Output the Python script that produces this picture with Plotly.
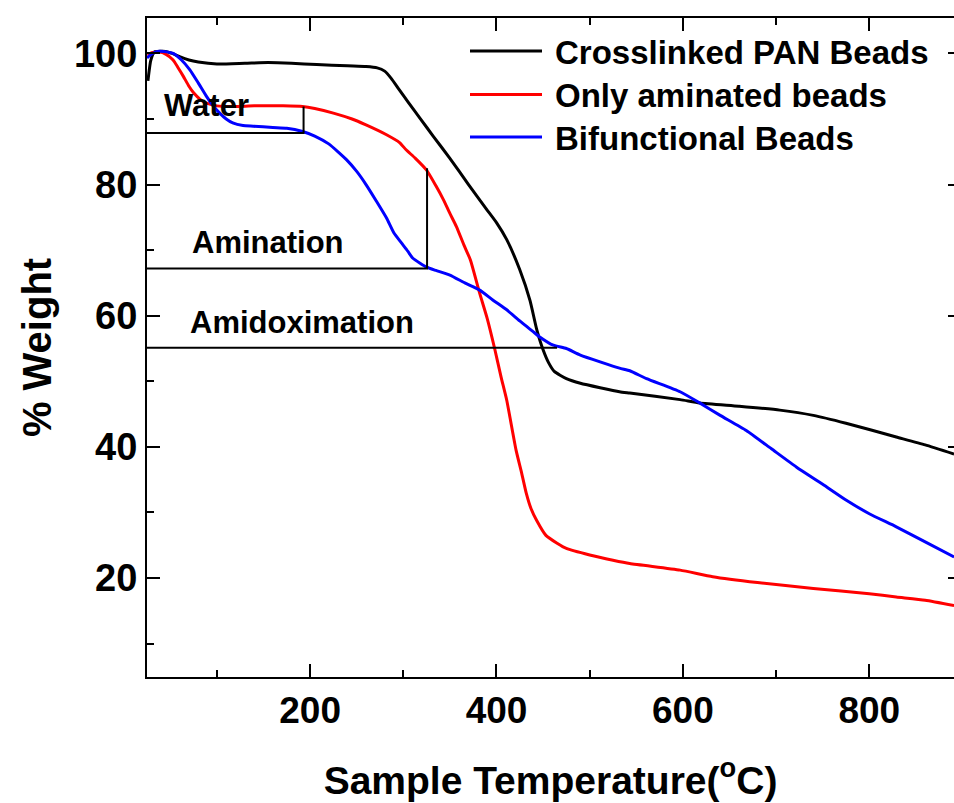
import plotly.graph_objects as go

# ---------------- data ----------------
pan_temp = [26, 29, 33, 45, 52, 60, 70, 80, 100, 130, 155, 180, 207, 240, 260, 272, 280, 287,
            295, 305, 318, 332, 350, 370, 389, 400, 411, 425, 436, 443, 450, 456, 462, 475, 490,
            532, 543, 597, 618, 660, 704, 740, 775, 829, 860, 891]
pan_weight = [95.8, 98.9, 100.2, 100.3, 100.0, 99.5, 99.0, 98.7, 98.4, 98.5, 98.6, 98.5, 98.3,
              98.1, 98.0, 97.8, 97.3, 96.2, 94.6, 92.6, 90.1, 87.4, 84.0, 80.0, 76.3, 74.2,
              71.6, 67.0, 62.3, 58.0, 54.8, 52.8, 51.5, 50.4, 49.7, 48.4, 48.2, 47.2, 46.7,
              46.2, 45.6, 44.8, 43.6, 41.5, 40.3, 38.9]

amin_temp = [26, 30, 38, 45, 53, 58, 64, 70, 75, 82, 89, 100, 117, 140, 171, 192, 205, 225,
             245, 260, 282, 296, 303, 313, 325, 335, 343, 350, 357, 365, 372, 382, 390, 398,
             405, 411, 421, 427, 432, 437, 443, 453, 465, 475, 500, 525, 543, 597, 632, 680,
             740, 800, 829, 860, 891]
amin_weight = [99.6, 100.1, 100.2, 99.9, 99.0, 97.9, 96.5, 95.0, 94.0, 93.0, 92.4, 92.0, 91.9,
               92.0, 92.0, 91.9, 91.6, 90.9, 90.0, 89.1, 87.6, 86.4, 85.3, 84.0, 82.2, 79.8,
               77.7, 75.6, 73.6, 70.8, 68.5, 63.4, 59.6, 55.0, 50.6, 47.1, 39.5, 36.0, 32.9,
               30.6, 28.8, 26.5, 25.3, 24.5, 23.5, 22.7, 22.2, 21.2, 20.2, 19.3, 18.4, 17.6,
               17.1, 16.6, 15.8]

bif_temp = [25, 30, 36, 43, 53, 62, 71, 80, 89, 96, 103, 110, 117, 128, 139, 160, 175, 192,
            205, 220, 239, 250, 260, 271, 282, 290, 298, 305, 310, 318, 325, 335, 350, 366,
            382, 396, 411, 425, 439, 446, 461, 475, 490, 532, 543, 561, 597, 618, 640, 668,
            695, 722, 750, 775, 800, 829, 860, 891]
bif_weight = [99.3, 99.9, 100.3, 100.3, 100.0, 99.0, 97.5, 95.5, 93.4, 92.0, 90.9, 90.0, 89.4,
              89.0, 88.9, 88.7, 88.6, 88.1, 87.4, 86.2, 83.8, 82.0, 80.0, 77.5, 74.9, 72.6,
              71.1, 69.8, 68.8, 68.0, 67.4, 66.9, 66.2, 65.0, 63.9, 62.4, 60.9, 59.2, 57.6,
              56.8, 55.5, 55.0, 54.0, 52.0, 51.6, 50.4, 48.4, 46.7, 44.8, 42.5, 39.7, 36.9,
              34.3, 31.9, 29.8, 27.8, 25.5, 23.2]

series_names = ["Crosslinked PAN Beads", "Only aminated beads", "Bifunctional Beads"]
series_colors = ["#000000", "#ff0000", "#0000ff"]

# step markers: level line from the axis to the step temperature, then a riser
step_labels = ["Water", "Amination", "Amidoximation"]
step_level = [87.85, 67.2, 55.1]
step_temp = [193, 325.5, 465]
step_top = [91.9, 82.5, None]
step_label_x = [41.5, 70.8, 69.0]
step_label_y = [92.0, 71.2, 58.9]

x_range = [25, 890.9]
y_range = [4.9, 105.4]
x_ticks = [200, 400, 600, 800]
y_ticks = [20, 40, 60, 80, 100]

FONT = "Liberation Sans, Arial, sans-serif"

fig = go.Figure()

for t, w, name, col in zip([pan_temp, amin_temp, bif_temp],
                           [pan_weight, amin_weight, bif_weight],
                           series_names, series_colors):
    fig.add_trace(go.Scatter(x=t, y=w, mode="lines", name=name,
                             line=dict(color=col, width=3, shape="spline", smoothing=0.5),
                             showlegend=False))

# step marker lines
for lvl, tx, top in zip(step_level, step_temp, step_top):
    xs = [x_range[0], tx]
    ys = [lvl, lvl]
    if top is not None:
        xs.append(tx)
        ys.append(top)
    fig.add_trace(go.Scatter(x=xs, y=ys, mode="lines", line=dict(color="black", width=2),
                             showlegend=False, hoverinfo="skip"))

# empty trace for the right-hand tick axis
fig.add_trace(go.Scatter(x=[], y=[], yaxis="y2", showlegend=False))

annotations = []
for lab, lx, ly in zip(step_labels, step_label_x, step_label_y):
    annotations.append(dict(x=lx, y=ly, xref="x", yref="y", text=lab, showarrow=False,
                            xanchor="left", yanchor="middle",
                            font=dict(family=FONT, size=31, color="black", weight="bold")))

# manual legend (paper coordinates)
L, R, T, B = 147, 954, 18, 677
def px(xp):
    return (xp - L) / (R - L)
def py(yp):
    return (B - yp) / (B - T)

legend_rows = [51, 94.5, 137]
shapes = []
for name, col, row in zip(series_names, series_colors, legend_rows):
    shapes.append(dict(type="line", xref="paper", yref="paper", x0=px(470), x1=px(542),
                       y0=py(row), y1=py(row), line=dict(color=col, width=3)))
    annotations.append(dict(x=px(553), y=py(row + 1), xref="paper", yref="paper", text=name,
                            showarrow=False, xanchor="left", yanchor="middle",
                            font=dict(family=FONT, size=33, color="black", weight="bold")))

fig.update_layout(
    width=954, height=803,
    margin=dict(l=L, r=954 - R, t=T, b=803 - B, pad=0),
    paper_bgcolor="white", plot_bgcolor="white",
    font=dict(family=FONT, color="black"),
    shapes=shapes, annotations=annotations,
    xaxis=dict(range=x_range, tickvals=x_ticks, ticks="inside", ticklen=13, tickwidth=2,
               tickcolor="black", showline=True, linewidth=2, linecolor="black",
               mirror="ticks", showgrid=False, zeroline=False,
               minor=dict(dtick=100, tick0=0, ticks="inside", ticklen=7, tickwidth=2,
                          tickcolor="black", showgrid=False),
               tickfont=dict(family=FONT, size=37, color="black", weight="bold"),
               title=dict(text="Sample Temperature(<sup>o</sup>C)", standoff=36,
                          font=dict(family=FONT, size=39, color="black", weight="bold")),
               automargin=False),
    yaxis=dict(range=y_range, tickvals=y_ticks, ticks="inside", ticklen=13, tickwidth=2,
               tickcolor="black", showline=True, linewidth=2, linecolor="black",
               showgrid=False, zeroline=False,
               minor=dict(dtick=10, tick0=0, ticks="inside", ticklen=7, tickwidth=2,
                          tickcolor="black", showgrid=False),
               tickfont=dict(family=FONT, size=38, color="black", weight="bold"),
               title=dict(text="% Weight", standoff=10,
                          font=dict(family=FONT, size=40, color="black", weight="bold")),
               automargin=False),
    yaxis2=dict(range=y_range, overlaying="y", side="right", tickvals=y_ticks,
                ticks="inside", ticklen=6, tickwidth=2, tickcolor="black",
                showline=False, showticklabels=False, showgrid=False, zeroline=False),
)

fig.write_html("out.html")
